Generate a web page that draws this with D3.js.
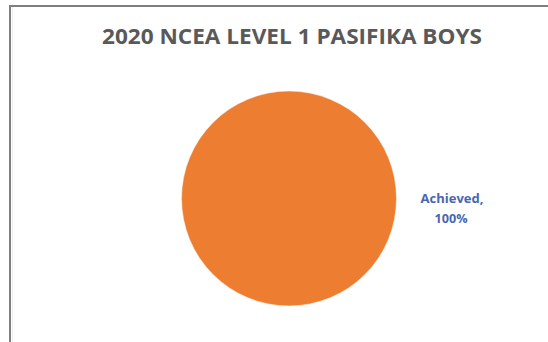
<!DOCTYPE html>
<html>
<head>
<meta charset="utf-8">
<script src="https://cdn.jsdelivr.net/npm/d3@7"></script>
<style>
  html, body { margin: 0; padding: 0; background: #fff; }
  svg { display: block; }
</style>
</head>
<body>
<svg id="chart" width="548" height="342"></svg>
<script>
// Chart data
const title = "2020 NCEA LEVEL 1 PASIFIKA BOYS";
const categories = ["Achieved"];
const values = [100];

const svg = d3.select("#chart");
const W = 548, H = 342;

// Chart frame (top and left edges visible in this crop)
svg.append("rect").attr("width", W).attr("height", H).attr("fill", "#fff");
svg.append("line").attr("x1", 9).attr("y1", 6).attr("x2", W).attr("y2", 6)
  .attr("stroke", "#7f7f7f").attr("stroke-width", 2);
svg.append("line").attr("x1", 10).attr("y1", 5).attr("x2", 10).attr("y2", H)
  .attr("stroke", "#7f7f7f").attr("stroke-width", 2);
svg.append("line").attr("x1", 12.5).attr("y1", 7).attr("x2", 12.5).attr("y2", H)
  .attr("stroke", "#ececec").attr("stroke-width", 1);

// Title
svg.append("text")
  .attr("x", 102).attr("y", 44)
  .attr("textLength", 380).attr("lengthAdjust", "spacingAndGlyphs")
  .attr("font-family", "'Open Sans', 'Liberation Sans', sans-serif")
  .attr("font-weight", 700).attr("font-size", 22)
  .attr("fill", "#595959")
  .text(title);

// Pie
const cx = 289, cy = 198.5, r = 107.5;
const colors = d3.scaleOrdinal().domain(categories).range(["#ED7D31"]);
const pie = d3.pie().sort(null).value(d => d.value);
const arc = d3.arc().innerRadius(0).outerRadius(r);
const data = categories.map((c, i) => ({ label: c, value: values[i] }));
const total = d3.sum(values);

const g = svg.append("g").attr("transform", `translate(${cx},${cy})`);
g.selectAll("path").data(pie(data)).join("path")
  .attr("d", arc)
  .attr("fill", d => colors(d.data.label))
  .attr("stroke", "#fff").attr("stroke-width", 0.5);

// Data label placed outside the pie on the right
const fmt = d3.format(".0%");
const lbl = svg.append("g")
  .attr("font-family", "'Open Sans', 'Liberation Sans', sans-serif")
  .attr("font-weight", 700).attr("font-size", 13)
  .attr("fill", "#4a66b0")
  .attr("text-anchor", "middle");
data.forEach(d => {
  lbl.append("text").attr("x", 452).attr("y", 203)
    .attr("textLength", 63).attr("lengthAdjust", "spacingAndGlyphs")
    .text(d.label + ",");
  lbl.append("text").attr("x", 451).attr("y", 223)
    .attr("textLength", 33).attr("lengthAdjust", "spacingAndGlyphs")
    .text(fmt(d.value / total));
});
</script>
</body>
</html>
